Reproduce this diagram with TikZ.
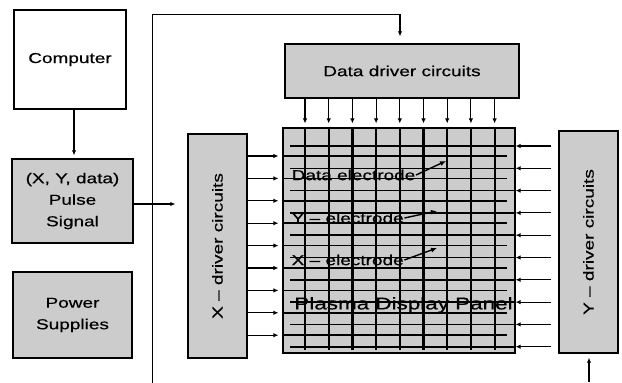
\documentclass[tikz,border=0pt]{standalone}
\usepackage{fontspec}
\setmainfont{Liberation Sans}[FakeStretch=1.32,FakeBold=0.5]
\usetikzlibrary{arrows.meta,calc}
\begin{document}
\begin{tikzpicture}[x=1pt,y=-1pt,
  box/.style={draw=black,line width=1.4pt,inner sep=0pt,align=center,
    font=\fontsize{14.4}{21.5}\selectfont},
  grayed/.style={box,fill=black!20},
  arr/.style={line width=1.1pt,-{Latex[length=5pt,width=4.5pt]}},
  conn/.style={line width=1pt},
  velec/.style={line width=2.2pt},
  helec/.style={line width=1.6pt},
  lab/.style={inner sep=0.5pt,anchor=west,font=\fontsize{14.4}{17}\selectfont},
  labarr/.style={line width=1.4pt,-{Latex[length=6pt,width=5pt]}}]
\useasboundingbox (0,0) rectangle (622,383);
% boxes
\node[box,minimum width=112pt,minimum height=99pt] (comp) at (70,59.5) {Computer};
\node[grayed,minimum width=121pt,minimum height=84pt] (pulse) at (72.5,201) {(X, Y, data)\\Pulse\\Signal};
\node[grayed,minimum width=119pt,minimum height=86pt] (power) at (72.5,315) {Power\\Supplies};
\node[grayed,minimum width=234pt,minimum height=54pt] (ddrv) at (402,71) {Data driver circuits};
\node[grayed,minimum width=59pt,minimum height=224pt] (xdrv) at (217.5,246) {\rotatebox{90}{X -- driver circuits}};
\node[grayed,minimum width=59pt,minimum height=222pt] (ydrv) at (588.5,242) {\rotatebox{90}{Y -- driver circuits}};
\node[grayed,line width=1.2pt,minimum width=232pt,minimum height=225pt] (panel) at (399,240.5) {};
% connectors
\coordinate (ct) at (74,109);
\draw[arr,shorten >=3pt] (ct) -- (ct |- pulse.north);
\coordinate (lb) at (152,383);
\coordinate (lt) at (152,14);
\coordinate (rt) at (400,14);
\draw[conn] (lb) -- (lt) -- (rt);
\draw[arr,shorten >=7pt] (rt) -- (rt |- ddrv.north);
\draw[arr,shorten >=12pt] (pulse.east |- 0,204) -- (xdrv.west |- 0,204);
\coordinate (yb) at (589,382);
\draw[arr,shorten >=4pt] (yb) -- (yb |- ydrv.south);
% data electrodes
\foreach \i in {0,...,8} {
  \pgfmathsetmacro\xx{305+23.7*\i}
  \draw[arr,shorten >=4pt] (ddrv.south -| \xx,0) -- (panel.north -| \xx,0);
  \draw[velec] (panel.north -| \xx,0) -- (\xx,350);
}
% X electrodes (from left)
\foreach \i in {0,...,8} {
  \pgfmathsetmacro\yy{156+22.4*\i}
  \draw[arr,shorten >=4pt] (xdrv.east |- 0,\yy) -- (panel.west |- 0,\yy);
  \draw[helec] (panel.west |- 0,\yy) -- (507,\yy);
}
% Y electrodes (from right)
\foreach \i in {0,...,9} {
  \pgfmathsetmacro\yy{146+22.3*\i}
  \draw[arr] (551,\yy) -- (panel.east |- 0,\yy);
  \draw[helec] (panel.east |- 0,\yy) -- (290,\yy);
}
% labels
\node[lab] (dlab) at (291,175) {Data electrode};
\node[lab] (ylab) at (291,218) {Y -- electrode};
\node[lab] (xlab) at (291,260) {X -- electrode};
\coordinate (dtip) at (446,161);
\coordinate (ytip) at (437,211);
\coordinate (xtip) at (437,248);
\draw[labarr] (dlab.east) -- (dtip);
\draw[labarr] (ylab.east) -- (ytip);
\draw[labarr] (xlab.east) -- (xtip);
\node[inner sep=0pt,font=\fontsize{17}{20}\selectfont] (plab) at (403.5,305) {Plasma Display Panel};
\end{tikzpicture}
\end{document}
